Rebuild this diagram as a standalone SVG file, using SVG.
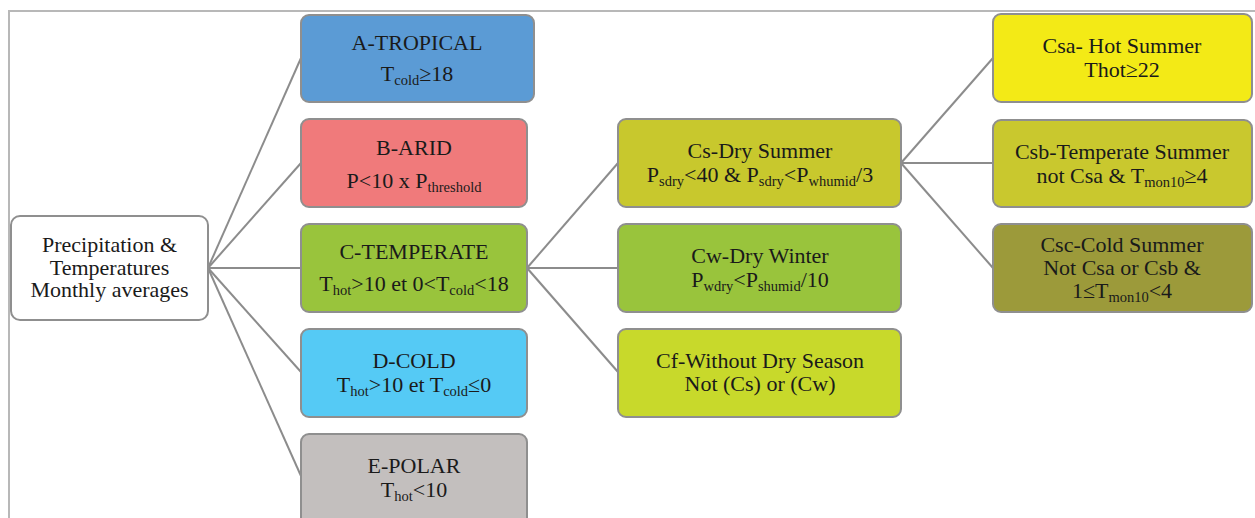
<svg xmlns="http://www.w3.org/2000/svg" width="1255" height="518" viewBox="0 0 1255 518">
<style>
text{font-family:"Liberation Serif","Times New Roman",serif;font-size:22px;fill:#1a1a1a;text-anchor:middle}
.s{font-size:14.5px}
.box{stroke:#8f8f8f;stroke-width:2}
.frame{fill:none;stroke:#b8b8b8;stroke-width:2}
.c{stroke:#8c8c8c;stroke-width:2;fill:none}
</style>
<rect width="1255" height="518" fill="#fff"/>
<rect class="frame" x="9" y="11" width="1270" height="530"/>
<g id="connectors">
<line class="c" x1="208" y1="268" x2="301" y2="58"/>
<line class="c" x1="208" y1="268" x2="301" y2="163"/>
<line class="c" x1="208" y1="268" x2="301" y2="268"/>
<line class="c" x1="208" y1="268" x2="301" y2="372"/>
<line class="c" x1="208" y1="268" x2="301" y2="476"/>
<line class="c" x1="527" y1="268" x2="618" y2="163"/>
<line class="c" x1="527" y1="268" x2="618" y2="268"/>
<line class="c" x1="527" y1="268" x2="618" y2="372"/>
<line class="c" x1="901" y1="163" x2="993" y2="58"/>
<line class="c" x1="901" y1="163" x2="993" y2="163"/>
<line class="c" x1="901" y1="163" x2="993" y2="268"/>
</g>
<g id="root">
<rect class="box" x="11" y="216" width="197" height="104" rx="9" fill="#fff"/>
<text x="109.5" y="252">Precipitation &amp;</text>
<text x="109.5" y="275">Temperatures</text>
<text x="109.5" y="297">Monthly averages</text>
</g>
<g id="tropical">
<rect class="box" x="301" y="15" width="233" height="87" rx="8" fill="#5b9bd5"/>
<text x="417" y="50">A-TROPICAL</text>
<text x="417" y="81">T<tspan class="s" dy="4">cold</tspan><tspan dy="-4">≥18</tspan></text>
</g>
<g id="arid">
<rect class="box" x="301" y="119" width="226" height="88" rx="8" fill="#f07a7b"/>
<text x="414" y="155">B-ARID</text>
<text x="414" y="188">P&lt;10 x P<tspan class="s" dy="4">threshold</tspan></text>
</g>
<g id="temperate">
<rect class="box" x="301" y="224" width="226" height="88" rx="8" fill="#99c43c"/>
<text x="414" y="259">C-TEMPERATE</text>
<text x="414" y="291">T<tspan class="s" dy="4">hot</tspan><tspan dy="-4">&gt;10 et 0&lt;T</tspan><tspan class="s" dy="4">cold</tspan><tspan dy="-4">&lt;18</tspan></text>
</g>
<g id="cold">
<rect class="box" x="301" y="329" width="226" height="88" rx="8" fill="#55caf5"/>
<text x="414" y="368">D-COLD</text>
<text x="414" y="392">T<tspan class="s" dy="4">hot</tspan><tspan dy="-4">&gt;10 et T</tspan><tspan class="s" dy="4">cold</tspan><tspan dy="-4">≤0</tspan></text>
</g>
<g id="polar">
<rect class="box" x="301" y="434" width="226" height="100" rx="8" fill="#c3bfbe"/>
<text x="414" y="473">E-POLAR</text>
<text x="414" y="497">T<tspan class="s" dy="4">hot</tspan><tspan dy="-4">&lt;10</tspan></text>
</g>
<g id="cs">
<rect class="box" x="618" y="119" width="283" height="88" rx="8" fill="#c8c82d"/>
<text x="760" y="158">Cs-Dry Summer</text>
<text x="760" y="182">P<tspan class="s" dy="4">sdry</tspan><tspan dy="-4">&lt;40 &amp; P</tspan><tspan class="s" dy="4">sdry</tspan><tspan dy="-4">&lt;P</tspan><tspan class="s" dy="4">whumid</tspan><tspan dy="-4">/3</tspan></text>
</g>
<g id="cw">
<rect class="box" x="618" y="224" width="283" height="88" rx="8" fill="#99c43c"/>
<text x="760" y="263">Cw-Dry Winter</text>
<text x="760" y="287">P<tspan class="s" dy="4">wdry</tspan><tspan dy="-4">&lt;P</tspan><tspan class="s" dy="4">shumid</tspan><tspan dy="-4">/10</tspan></text>
</g>
<g id="cf">
<rect class="box" x="618" y="329" width="283" height="88" rx="8" fill="#c8d92b"/>
<text x="760" y="368">Cf-Without Dry Season</text>
<text x="760" y="391">Not (Cs) or (Cw)</text>
</g>
<g id="csa">
<rect class="box" x="993" y="14" width="259" height="88" rx="8" fill="#f3ea16"/>
<text x="1122" y="53">Csa- Hot Summer</text>
<text x="1122" y="77">Thot≥22</text>
</g>
<g id="csb">
<rect class="box" x="993" y="120" width="259" height="87" rx="8" fill="#c9c82e"/>
<text x="1122" y="159">Csb-Temperate  Summer</text>
<text x="1122" y="183">not Csa &amp; T<tspan class="s" dy="4">mon10</tspan><tspan dy="-4">≥4</tspan></text>
</g>
<g id="csc">
<rect class="box" x="993" y="224" width="259" height="88" rx="8" fill="#9c9a3a"/>
<text x="1122" y="252">Csc-Cold Summer</text>
<text x="1122" y="275">Not Csa or Csb &amp;</text>
<text x="1122" y="298">1≤T<tspan class="s" dy="4">mon10</tspan><tspan dy="-4">&lt;4</tspan></text>
</g>
</svg>
